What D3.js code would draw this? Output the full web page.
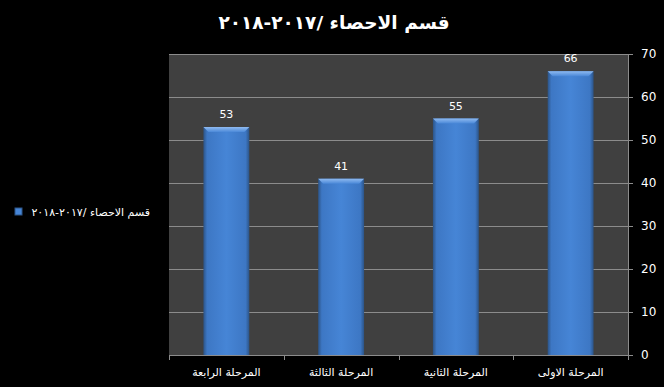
<!DOCTYPE html>
<html>
<head>
<meta charset="utf-8">
<script src="https://cdn.jsdelivr.net/npm/d3@7"></script>
<style>
  html, body { margin: 0; padding: 0; background: #000; }
  svg { display: block; font-family: Tahoma, "DejaVu Sans", sans-serif; }
</style>
</head>
<body>
<svg id="chart" width="664" height="387"></svg>
<script>
// Chart data (first stage -> fourth stage)
const stages = ['المرحلة الاولى', 'المرحلة الثانية', 'المرحلة الثالثة', 'المرحلة الرابعة'];
const students = [66, 55, 41, 53];
const yTicks = [0, 10, 20, 30, 40, 50, 60, 70];
const chartTitle = 'قسم الاحصاء /٢٠١٧-٢٠١٨';
const seriesName = 'قسم الاحصاء /٢٠١٧-٢٠١٨';

const margin = { top: 54, right: 36, bottom: 32, left: 169 };
const width = 664 - margin.left - margin.right;
const height = 387 - margin.top - margin.bottom;

const data = stages.map((s, i) => ({ stage: s, value: students[i] }));

const svg = d3.select('#chart');

// gradient for bars
const defs = svg.append('defs');
const grad = defs.append('linearGradient').attr('id', 'barGrad')
    .attr('x1', '0%').attr('x2', '100%').attr('y1', '0%').attr('y2', '0%');
grad.append('stop').attr('offset', '0%').attr('stop-color', '#2c5487');
grad.append('stop').attr('offset', '8%').attr('stop-color', '#3d77c4');
grad.append('stop').attr('offset', '50%').attr('stop-color', '#4685d6');
grad.append('stop').attr('offset', '92%').attr('stop-color', '#3d77c4');
grad.append('stop').attr('offset', '100%').attr('stop-color', '#2c5487');

const topGrad = defs.append('linearGradient').attr('id', 'topGrad')
    .attr('x1', '0%').attr('x2', '0%').attr('y1', '0%').attr('y2', '100%');
topGrad.append('stop').attr('offset', '0%').attr('stop-color', '#8fbaf0');
topGrad.append('stop').attr('offset', '100%').attr('stop-color', '#4a88d8');

// title
svg.append('text')
    .attr('x', 334)
    .attr('y', 29)
    .attr('text-anchor', 'middle')
    .attr('fill', '#fff')
    .style('font-size', '18.5px')
    .style('font-weight', 'bold')
    .text(chartTitle);

const g = svg.append('g')
    .attr('transform', `translate(${margin.left},${margin.top})`);

const x = d3.scaleBand()
    .domain(stages.slice().reverse())
    .range([0, width])
    .paddingInner(0.6)
    .paddingOuter(0.3);

const y = d3.scaleLinear()
    .domain([0, 70])
    .range([height, 0]);

// plot background
g.append('rect')
    .attr('width', width)
    .attr('height', height)
    .attr('fill', '#404040');

// gridlines
g.selectAll('.grid')
    .data(yTicks)
    .enter()
    .append('line')
    .attr('x1', 0)
    .attr('x2', width)
    .attr('y1', d => Math.round(y(d)) + 0.5)
    .attr('y2', d => Math.round(y(d)) + 0.5)
    .attr('stroke', '#8c8c8c')
    .attr('stroke-width', 1);

// bars
const bars = g.selectAll('.bar')
    .data(data)
    .enter()
    .append('g')
    .attr('class', 'bar');

bars.append('rect')
    .attr('x', d => x(d.stage))
    .attr('y', d => y(d.value))
    .attr('width', x.bandwidth())
    .attr('height', d => height - y(d.value))
    .attr('fill', 'url(#barGrad)');

// top bevel
bars.append('path')
    .attr('d', d => {
        const x0 = x(d.stage), x1 = x0 + x.bandwidth(), y0 = y(d.value);
        return `M${x0},${y0}L${x1},${y0}L${x1 - 5},${y0 + 5}L${x0 + 5},${y0 + 5}Z`;
    })
    .attr('fill', 'url(#topGrad)');

// data labels
bars.append('text')
    .attr('x', d => x(d.stage) + x.bandwidth() / 2)
    .attr('y', d => y(d.value) - 9)
    .attr('text-anchor', 'middle')
    .attr('fill', '#fff')
    .style('font-size', '11px')
    .text(d => d.value);

// x axis
const xAxis = g.append('g')
    .attr('transform', `translate(0,${height})`);
xAxis.append('line')
    .attr('x1', 0).attr('x2', width)
    .attr('y1', 0.5).attr('y2', 0.5)
    .attr('stroke', '#8c8c8c');
const bounds = d3.range(stages.length + 1).map(i => i * width / stages.length);
xAxis.selectAll('.xtick')
    .data(bounds)
    .enter()
    .append('line')
    .attr('x1', d => Math.round(d) + 0.5)
    .attr('x2', d => Math.round(d) + 0.5)
    .attr('y1', 0).attr('y2', 5)
    .attr('stroke', '#8c8c8c');
xAxis.selectAll('.xlabel')
    .data(stages)
    .enter()
    .append('text')
    .attr('x', d => x(d) + x.bandwidth() / 2)
    .attr('y', 21)
    .attr('text-anchor', 'middle')
    .attr('fill', '#fff')
    .style('font-size', '11px')
    .text(d => d);

// y axis (right)
const yAxis = g.append('g')
    .attr('transform', `translate(${width},0)`)
    .call(d3.axisRight(y).tickValues(yTicks).tickSize(5).tickPadding(8));
yAxis.select('.domain').attr('stroke', '#8c8c8c');
yAxis.selectAll('.tick line').attr('stroke', '#8c8c8c');
yAxis.selectAll('.tick text')
    .attr('fill', '#fff')
    .style('font-size', '12px')
    .style('font-family', 'Tahoma, "DejaVu Sans", sans-serif');

// legend
const legend = svg.append('g').attr('transform', 'translate(15,208)');
legend.append('rect')
    .attr('width', 7).attr('height', 7)
    .attr('fill', '#4685d6')
    .attr('stroke', '#2c5487');
legend.append('text')
    .attr('x', 135)
    .attr('y', 8)
    .attr('text-anchor', 'end')
    .attr('fill', '#fff')
    .style('font-size', '11px')
    .text(seriesName);
</script>
</body>
</html>
